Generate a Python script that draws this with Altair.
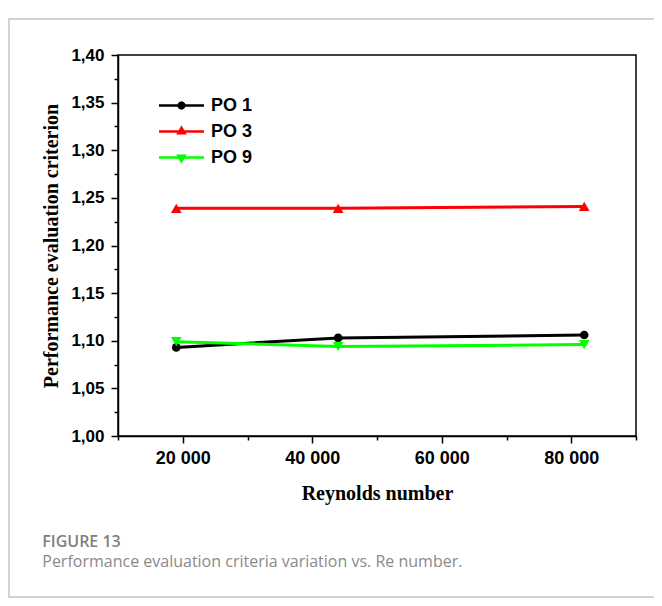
import altair as alt
import pandas as pd

# ---- data ----
re_numbers = [19000, 44000, 82000]
series_names = ["PO 1", "PO 3", "PO 9"]
po1 = [1.093, 1.103, 1.106]
po3 = [1.239, 1.239, 1.241]
po9 = [1.099, 1.094, 1.096]

series_colors = ["#000000", "#ff0000", "#00ff00"]
marker_shapes = ["circle", "triangle-up", "triangle-down"]
marker_sizes = [75, 115, 115]
legend_shapes = [
    "M-2.5,0L2.5,0M0.32,0L0.277,0.16L0.16,0.277L0,0.32L-0.16,0.277L-0.277,0.16L-0.32,0"
    "L-0.277,-0.16L-0.16,-0.277L0,-0.32L0.16,-0.277L0.277,-0.16Z",
    "M-2.5,0L2.5,0M0,-0.41L0.354,0.204L-0.354,0.204Z",
    "M-2.5,0L2.5,0M0,0.41L0.354,-0.204L-0.354,-0.204Z",
]

x_ticks = [10000, 20000, 30000, 40000, 50000, 60000, 70000, 80000, 90000]
y_ticks = [1.0, 1.025, 1.05, 1.075, 1.1, 1.125, 1.15, 1.175, 1.2,
           1.225, 1.25, 1.275, 1.3, 1.325, 1.35, 1.375, 1.4]

rows = []
for name, vals in zip(series_names, [po1, po3, po9]):
    for r, v in zip(re_numbers, vals):
        rows.append({"Re": r, "PEC": v, "Series": name})
df = pd.DataFrame(rows)

W, H = 518, 381

x_enc = alt.X(
    "Re:Q",
    scale=alt.Scale(domain=[10000, 90000], nice=False, zero=False),
    axis=alt.Axis(
        title="Reynolds number",
        values=x_ticks,
        labelExpr="datum.value % 20000 == 0 ? replace(format(datum.value, ','), ',', ' ') : ''",
        tickSize={"condition": {"test": "datum.value % 20000 == 0", "value": 7}, "value": 4},
        labelPadding=6,
        labelFont="Liberation Sans", labelFontSize=18, labelFontWeight="bold",
        labelColor="black", labelFlush=False, labelOverlap=False,
        titleFont="Liberation Serif", titleFontSize=20, titleFontWeight="bold",
        titleColor="black", titleY=63, titleBaseline="alphabetic",
        grid=False, domainColor="black", domainWidth=1.5,
        tickColor="black", tickWidth=1.5,
    ),
)
y_enc = alt.Y(
    "PEC:Q",
    scale=alt.Scale(domain=[1.0, 1.4], nice=False, zero=False),
    axis=alt.Axis(
        title="Performance evaluation criterion",
        values=y_ticks,
        labelExpr="round(datum.value * 1000) % 50 == 0 ? replace(format(datum.value, '.2f'), '.', ',') : ''",
        tickSize={"condition": {"test": "round(datum.value * 1000) % 50 == 0", "value": 7}, "value": 4},
        labelPadding=7,
        labelFont="Liberation Sans", labelFontSize=17, labelFontWeight="bold",
        labelColor="black", labelFlush=False, labelOverlap=False,
        titleFont="Liberation Serif", titleFontSize=20, titleFontWeight="bold",
        titleColor="black", titleX=-61, titleY=H / 2, titleBaseline="alphabetic",
        titleAlign="center",
        grid=False, domainColor="black", domainWidth=1.5,
        tickColor="black", tickWidth=1.5,
    ),
)

leg = alt.Legend(
    title=None, orient="none", legendX=53, legendY=40,
    symbolSize=324, symbolStrokeWidth=2.5, symbolOpacity=1,
    labelFont="Liberation Sans", labelFontSize=18, labelFontWeight="bold",
    labelColor="black", labelOffset=19, rowPadding=6, padding=0,
)

border = alt.Chart(alt.Data(values=[{}])).mark_rect(
    fill="transparent", stroke="#c4c4c4", strokeWidth=1.5
).encode(
    x=alt.value(-109), x2=alt.value(545), y=alt.value(-36), y2=alt.value(542)
)

lines = alt.Chart(df).mark_line(strokeWidth=3).encode(
    x=x_enc, y=y_enc,
    color=alt.Color("Series:N", scale=alt.Scale(domain=series_names, range=series_colors), legend=leg),
)

point_layers = []
for name, col, shp, sz in zip(series_names, series_colors, marker_shapes, marker_sizes):
    point_layers.append(
        alt.Chart(df).transform_filter(alt.datum.Series == name)
        .mark_point(filled=True, opacity=1, shape=shp, size=sz, color=col)
        .encode(x=x_enc, y=y_enc)
    )

legend_layer = alt.Chart(df).mark_point(filled=True, opacity=0).encode(
    x=x_enc, y=y_enc,
    fill=alt.Fill("Series:N", scale=alt.Scale(domain=series_names, range=series_colors), legend=leg),
    stroke=alt.Stroke("Series:N", scale=alt.Scale(domain=series_names, range=series_colors), legend=leg),
    shape=alt.Shape("Series:N", scale=alt.Scale(domain=series_names, range=legend_shapes), legend=leg),
)

chart = alt.layer(border, lines, *point_layers, legend_layer).properties(
    width=W, height=H,
    autosize=alt.AutoSizeParams(type="none"),
    padding={"left": 110, "top": 47, "right": 18, "bottom": 162},
    background="white",
    title=alt.TitleParams(
        text="FIGURE 13",
        subtitle="Performance evaluation criteria variation vs. Re number.",
        orient="bottom", anchor="start", dx=34, offset=-64,
        font="Open Sans", fontSize=16, fontWeight=600, color="#7f7f7f",
        subtitleFont="Open Sans", subtitleFontSize=16, subtitleFontWeight="normal",
        subtitleColor="#8a8a8a", subtitlePadding=4,
    ),
).configure_view(stroke="black", strokeWidth=1.5)

chart.save("out.html", embed_options={"renderer": "svg", "actions": False})
